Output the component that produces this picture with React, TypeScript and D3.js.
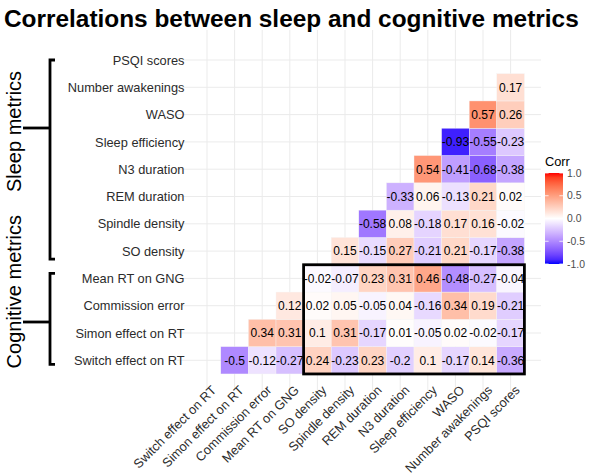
import React from "react";
import * as d3 from "d3";

// Variables in column order (left to right); rows run bottom to top in the same order.
const variables = [
  "Switch effect on RT",
  "Simon effect on RT",
  "Commission error",
  "Mean RT on GNG",
  "SO density",
  "Spindle density",
  "REM duration",
  "N3 duration",
  "Sleep efficiency",
  "WASO",
  "Number awakenings",
  "PSQI scores",
];

// Lower-triangle correlations: for each row variable, values for the columns to its right.
const switchRow = [-0.5, -0.12, -0.27, 0.24, -0.23, 0.23, -0.2, 0.1, -0.17, 0.14, -0.36];
const simonRow = [0.34, 0.31, 0.1, 0.31, -0.17, 0.01, -0.05, 0.02, -0.02, -0.17];
const commissionRow = [0.12, 0.02, 0.05, -0.05, 0.04, -0.16, 0.34, 0.19, -0.21];
const meanRtRow = [-0.02, -0.07, 0.23, 0.31, 0.46, -0.48, -0.27, -0.04];
const soRow = [0.15, -0.15, 0.27, -0.21, 0.21, -0.17, -0.38];
const spindleRow = [-0.58, 0.08, -0.18, 0.17, 0.16, -0.02];
const remRow = [-0.33, 0.06, -0.13, 0.21, 0.02];
const n3Row = [0.54, -0.41, -0.68, -0.38];
const efficiencyRow = [-0.93, -0.55, -0.23];
const wasoRow = [0.57, 0.26];
const awakeningsRow = [0.17];
const psqiRow: number[] = [];

const rows = [
  switchRow, simonRow, commissionRow, meanRtRow, soRow, spindleRow,
  remRow, n3Row, efficiencyRow, wasoRow, awakeningsRow, psqiRow,
];

const legendBreaks = [1.0, 0.5, 0.0, -0.5, -1.0];

const FONT = "'Liberation Sans', Arial, Helvetica, sans-serif";

export default function App() {
  const W = 590;
  const H = 475;

  // Panel extents
  const colStep = 27.6;
  const rowStep = 27.3;
  const x0 = 207 - colStep / 2;
  const yTop = 60 - rowStep / 2;

  const x = d3
    .scaleBand<string>()
    .domain(variables)
    .range([x0, x0 + colStep * variables.length])
    .padding(0);
  const y = d3
    .scaleBand<string>()
    .domain([...variables].reverse())
    .range([yTop, yTop + rowStep * variables.length])
    .padding(0);

  const panelLeft = x0 - 0.6 * colStep;
  const panelRight = x0 + colStep * variables.length + 0.6 * colStep;
  const panelTop = yTop - 0.6 * rowStep;
  const panelBottom = yTop + rowStep * variables.length + 0.6 * rowStep;

  const lab = d3.interpolateLab;
  const color = (v: number) =>
    v >= 0 ? lab("#FFFFFF", "#FF0000")(v) : lab("#FFFFFF", "#0000FF")(-v);

  const cells: { r: string; c: string; v: number }[] = [];
  rows.forEach((vals, ri) => {
    vals.forEach((v, k) => {
      cells.push({ r: variables[ri], c: variables[ri + 1 + k], v });
    });
  });

  const cx = (n: string) => (x(n) as number) + x.bandwidth() / 2;
  const cy = (n: string) => (y(n) as number) + y.bandwidth() / 2;

  // Highlight box: cognitive rows vs sleep columns
  const boxX1 = x("SO density") as number;
  const boxX2 = (x("PSQI scores") as number) + x.bandwidth();
  const boxY1 = y("Mean RT on GNG") as number;
  const boxY2 = (y("Switch effect on RT") as number) + y.bandwidth();

  // Legend
  const legX = 545;
  const legW = 18;
  const legScale = d3.scaleLinear().domain([-1, 1]).range([264, 173]);
  const gradStops = d3.range(-1, 1.0001, 0.1);

  const bracketX = 50;
  const sleepTop = cy("PSQI scores");
  const sleepBottom = cy("SO density") + 8;
  const cogTop = cy("Mean RT on GNG") - 5;
  const cogBottom = cy("Switch effect on RT") + 4;

  return (
    <svg
      width={W}
      height={H}
      style={{ position: "absolute", left: 0, top: 0, background: "#fff" }}
      fontFamily={FONT}
    >
      <defs>
        <linearGradient id="corrGrad" x1="0" y1="1" x2="0" y2="0">
          {gradStops.map((v, i) => (
            <stop key={i} offset={(v + 1) / 2} stopColor={color(v)} />
          ))}
        </linearGradient>
      </defs>
      <rect width={W} height={H} fill="#fff" />

      <text x={4} y={27} fontSize={24.4} fontWeight="bold" fill="#000">
        Correlations between sleep and cognitive metrics
      </text>

      {/* grid */}
      <g stroke="#EBEBEB" strokeWidth={1}>
        {variables.map((v) => (
          <line key={"v" + v} x1={cx(v)} x2={cx(v)} y1={panelTop} y2={panelBottom} />
        ))}
        {variables.map((v) => (
          <line key={"h" + v} x1={panelLeft} x2={panelRight} y1={cy(v)} y2={cy(v)} />
        ))}
      </g>

      {/* tiles */}
      <g>
        {cells.map((d, i) => (
          <rect
            key={i}
            x={x(d.c)}
            y={y(d.r)}
            width={x.bandwidth()}
            height={y.bandwidth()}
            fill={color(d.v)}
            stroke="#F4F4F4"
            strokeWidth={0.4}
          />
        ))}
      </g>
      <g fontSize={12} fill="#000" textAnchor="middle">
        {cells.map((d, i) => (
          <text key={i} x={cx(d.c)} y={cy(d.r)} dy="0.36em">
            {String(d.v)}
          </text>
        ))}
      </g>

      <rect
        x={boxX1}
        y={boxY1}
        width={boxX2 - boxX1}
        height={boxY2 - boxY1}
        fill="none"
        stroke="#000"
        strokeWidth={2.8}
      />

      {/* y axis labels */}
      <g fontSize={12.8} fill="#2b2b2b" textAnchor="end">
        {variables.map((v) => (
          <text key={v} x={184.5} y={cy(v)} dy="0.36em">
            {v}
          </text>
        ))}
      </g>

      {/* x axis labels */}
      <g fontSize={12.8} fill="#2b2b2b" textAnchor="end">
        {variables.map((v) => (
          <text key={v} transform={`translate(${cx(v) + 10},${391}) rotate(-45)`}>
            {v}
          </text>
        ))}
      </g>

      {/* group brackets */}
      <g stroke="#000" strokeWidth={2.8} fill="none">
        <path d={`M${bracketX + 5},${sleepTop} H${bracketX} V${sleepBottom} H${bracketX + 5}`} />
        <line x1={23} x2={bracketX} y1={128} y2={128} />
        <path d={`M${bracketX + 5},${cogTop} H${bracketX} V${cogBottom} H${bracketX + 5}`} />
        <line x1={23} x2={bracketX} y1={322} y2={322} />
      </g>
      <g fontSize={20} fill="#000" textAnchor="middle">
        <text transform={`translate(20.5,131.5) rotate(-90)`}>Sleep metrics</text>
        <text transform={`translate(20.5,291.7) rotate(-90)`}>Cognitive metrics</text>
      </g>

      {/* legend */}
      <text x={legX} y={166} fontSize={12.8} fill="#000">
        Corr
      </text>
      <rect
        x={legX}
        y={legScale(1)}
        width={legW}
        height={legScale(-1) - legScale(1)}
        fill="url(#corrGrad)"
      />
      <g stroke="#fff" strokeWidth={0.8}>
        {legendBreaks.map((b) => (
          <g key={b}>
            <line x1={legX} x2={legX + legW / 5} y1={legScale(b)} y2={legScale(b)} />
            <line x1={legX + legW - legW / 5} x2={legX + legW} y1={legScale(b)} y2={legScale(b)} />
          </g>
        ))}
      </g>
      <g fontSize={10.4} fill="#4D4D4D">
        {legendBreaks.map((b) => (
          <text key={b} x={legX + legW + 4} y={legScale(b)} dy="0.36em">
            {b.toFixed(1)}
          </text>
        ))}
      </g>
    </svg>
  );
}
